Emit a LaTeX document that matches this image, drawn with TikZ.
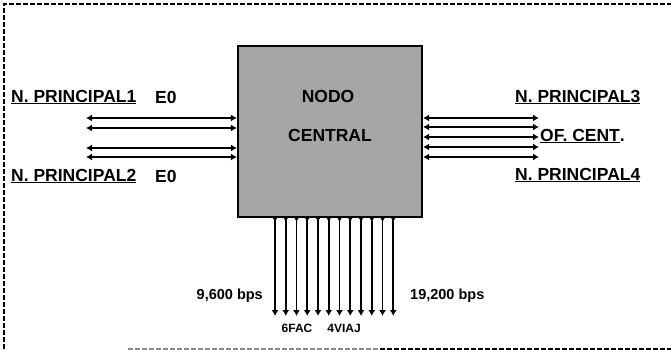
\documentclass[tikz,border=0pt]{standalone}
\usepackage{fontspec}
\setmainfont{Liberation Sans}
\usetikzlibrary{arrows.meta}
\begin{document}
\begin{tikzpicture}[x=1pt,y=-1pt,
  lbl/.style={font=\bfseries\fontsize{17.5}{17.5}\selectfont, inner sep=0pt},
  small/.style={font=\bfseries\fontsize{12}{12}\selectfont, inner sep=0pt},
  rate/.style={font=\bfseries\fontsize{14.5}{14.5}\selectfont, inner sep=0pt},
  link/.style={line width=1.6pt, {Latex[length=6pt,width=7pt]}-{Latex[length=6pt,width=7pt]}},
  vlink/.style={line width=1.6pt, {Latex[length=5pt,width=6pt,reversed]}-{Latex[length=6pt,width=7pt]}},
  frame/.style={line width=1.1pt, dash pattern=on 5pt off 2pt}]
\useasboundingbox (0,0) rectangle (671,350);
% frame
\draw[frame] (4,349) -- (4,4) -- (671,4);
\draw[frame, black!45] (128,349) -- (380,349);
\draw[frame] (380,349) -- (671,349);
% central node
\node[draw, line width=2.2pt, fill=black!35, minimum width=184pt, minimum height=171pt, inner sep=0pt] (nc) at (330,131.5) {};
\node[lbl] (nodo) at (328,96) {NODO};
\node[lbl] (central) at (330,135) {CENTRAL};
% left labels
\node[lbl, anchor=west] (np1) at (11,97) {\underline{N. PRINCIPAL1}};
\node[lbl, anchor=west] (e01) at (155,97) {E0};
\node[lbl, anchor=west] (np2) at (11,176) {\underline{N. PRINCIPAL2}};
\node[lbl, anchor=west] (e02) at (155,176) {E0};
% right labels
\node[lbl, anchor=west] (np3) at (515,97) {\underline{N. PRINCIPAL3}};
\node[lbl, anchor=west] (ofc) at (540,136) {\underline{OF. CENT}.};
\node[lbl, anchor=west] (np4) at (515,175) {\underline{N. PRINCIPAL4}};
% bottom labels
\node[rate, anchor=east] (r1) at (263,296) {9,600 bps};
\node[rate, anchor=west] (r2) at (410,296) {19,200 bps};
\node[small] (fac) at (297,328) {6FAC};
\node[small] (viaj) at (344,328) {4VIAJ};
% left links
\foreach \i/\y in {1/118,2/128,3/148,4/157}{
  \coordinate (la\i) at (86,\y);
  \coordinate (lb\i) at (nc.west |- 0,\y);
  \draw[link] (la\i) -- (lb\i);
}
% right links
\foreach \i/\y in {1/118,2/127,3/137,4/147,5/157}{
  \coordinate (ra\i) at (nc.east |- 0,\y);
  \coordinate (rb\i) at (539,\y);
  \draw[link] (ra\i) -- (rb\i);
}
% bottom links
\foreach \i in {0,...,11}{
  \pgfmathsetmacro{\xx}{275+\i*10.75}
  \coordinate (ta\i) at (\xx,217);
  \coordinate (tb\i) at (\xx,316);
  \draw[vlink] (ta\i) -- (tb\i);
}
\end{tikzpicture}
\end{document}
